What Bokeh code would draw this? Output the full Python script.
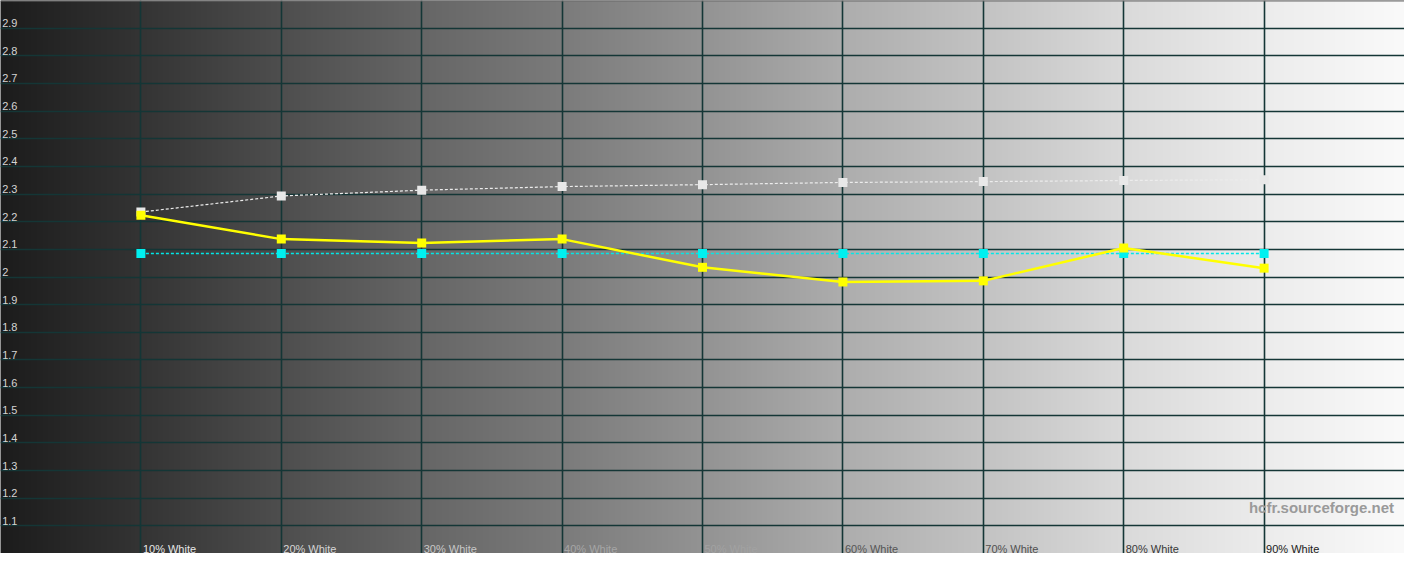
import numpy as np
from bokeh.plotting import figure
from bokeh.models import FixedTicker, Span, ColumnDataSource
from bokeh.core.properties import value
from bokeh.embed import file_html
from bokeh.resources import INLINE

# ---- data ----
levels = [10, 20, 30, 40, 50, 60, 70, 80, 90]
x_labels = ["10% White", "20% White", "30% White", "40% White", "50% White",
            "60% White", "70% White", "80% White", "90% White"]
measured_gamma = [2.223, 2.137, 2.123, 2.137, 2.035, 1.982, 1.986, 2.105, 2.032]
reference_gamma = [2.235, 2.293, 2.314, 2.327, 2.334, 2.342, 2.345, 2.349, 2.352]
target_gamma = [2.085, 2.085, 2.085, 2.085, 2.085, 2.085, 2.085, 2.085, 2.085]
y_ticks = [1.1, 1.2, 1.3, 1.4, 1.5, 1.6, 1.7, 1.8, 1.9, 2.0,
           2.1, 2.2, 2.3, 2.4, 2.5, 2.6, 2.7, 2.8, 2.9]
y_tick_labels = ["1.1", "1.2", "1.3", "1.4", "1.5", "1.6", "1.7", "1.8", "1.9", "2",
                 "2.1", "2.2", "2.3", "2.4", "2.5", "2.6", "2.7", "2.8", "2.9"]

# ---- style ----
x_label_colors = ["#e8e8e8", "#d6d6d6", "#c8c8c8", "#a6a6a6", "#a2a2a2",
                  "#555555", "#505050", "#383838", "#202020"]
bg_knots_x = [0, 10, 20, 30, 40, 50, 60, 70, 80, 90, 100]
bg_knots_v = [28, 52, 78, 102, 123, 147, 173, 195, 218, 236, 250]

W, H = 1404, 553
p = figure(width=W, height=H, x_range=(0, 100), y_range=(1.0, 3.0),
           output_backend="svg", toolbar_location=None, min_border=0,
           background_fill_color="#808080", border_fill_color="#808080")
p.xaxis.visible = False
p.yaxis.visible = False
p.outline_line_color = None

# background gradient
ncol = 1420
xs = np.linspace(0, 100, ncol)
gray = np.interp(xs, bg_knots_x, bg_knots_v).astype(np.uint32)
img = np.zeros((2, ncol), dtype=np.uint32)
view = img.view(dtype=np.uint8).reshape((2, ncol, 4))
view[:, :, 0] = gray
view[:, :, 1] = gray
view[:, :, 2] = gray
view[:, :, 3] = 255
bg = p.image_rgba(image=[img], x=0, y=1.0, dw=100, dh=2.0)
bg.level = "image"

# grid
p.xgrid.ticker = FixedTicker(ticks=levels)
p.ygrid.ticker = FixedTicker(ticks=y_ticks)
for g in (p.xgrid, p.ygrid):
    g.grid_line_color = "#143636"
    g.grid_line_width = 1.6
    g.grid_line_alpha = 1.0

p.add_layout(Span(location=3.0, dimension="width", line_color="#6a6a6a", line_width=2))

font = value("Liberation Sans")

# y tick labels
ysrc = ColumnDataSource(dict(x=[0.12] * len(y_ticks), y=y_ticks, t=y_tick_labels))
p.text(x="x", y="y", text="t", source=ysrc, text_font=font, text_font_size="11px",
       text_color="#d4d4d4", text_baseline="bottom", text_align="left", y_offset=-1)

# x labels
xsrc = ColumnDataSource(dict(x=levels, y=[1.0] * len(levels), t=x_labels, c=x_label_colors))
p.text(x="x", y="y", text="t", source=xsrc, text_font=font, text_font_size="11px",
       text_color="c", text_baseline="bottom", text_align="left", x_offset=2, y_offset=1)

# watermark
p.text(x=[99.25], y=[1.167], text=["hcfr.sourceforge.net"], text_font=font,
       text_font_size="15px", text_font_style="bold", text_color="#9a9a9a",
       text_align="right", text_baseline="middle")

# series
p.line(levels, target_gamma, line_color="#00e8e8", line_width=1.3, line_dash="3 2")
p.scatter(levels, target_gamma, marker="square", size=9, fill_color="#00f0f0", line_color=None)

p.line(levels, reference_gamma, line_color="#ececec", line_width=1.2, line_dash="3 2")
p.scatter(levels, reference_gamma, marker="square", size=9, fill_color="#e8e8e8", line_color=None)

p.line(levels, measured_gamma, line_color="#ffff00", line_width=2.5)
p.scatter(levels, measured_gamma, marker="square", size=9, fill_color="#ffff00", line_color=None)

open("out.html", "w").write(file_html(p, INLINE))
